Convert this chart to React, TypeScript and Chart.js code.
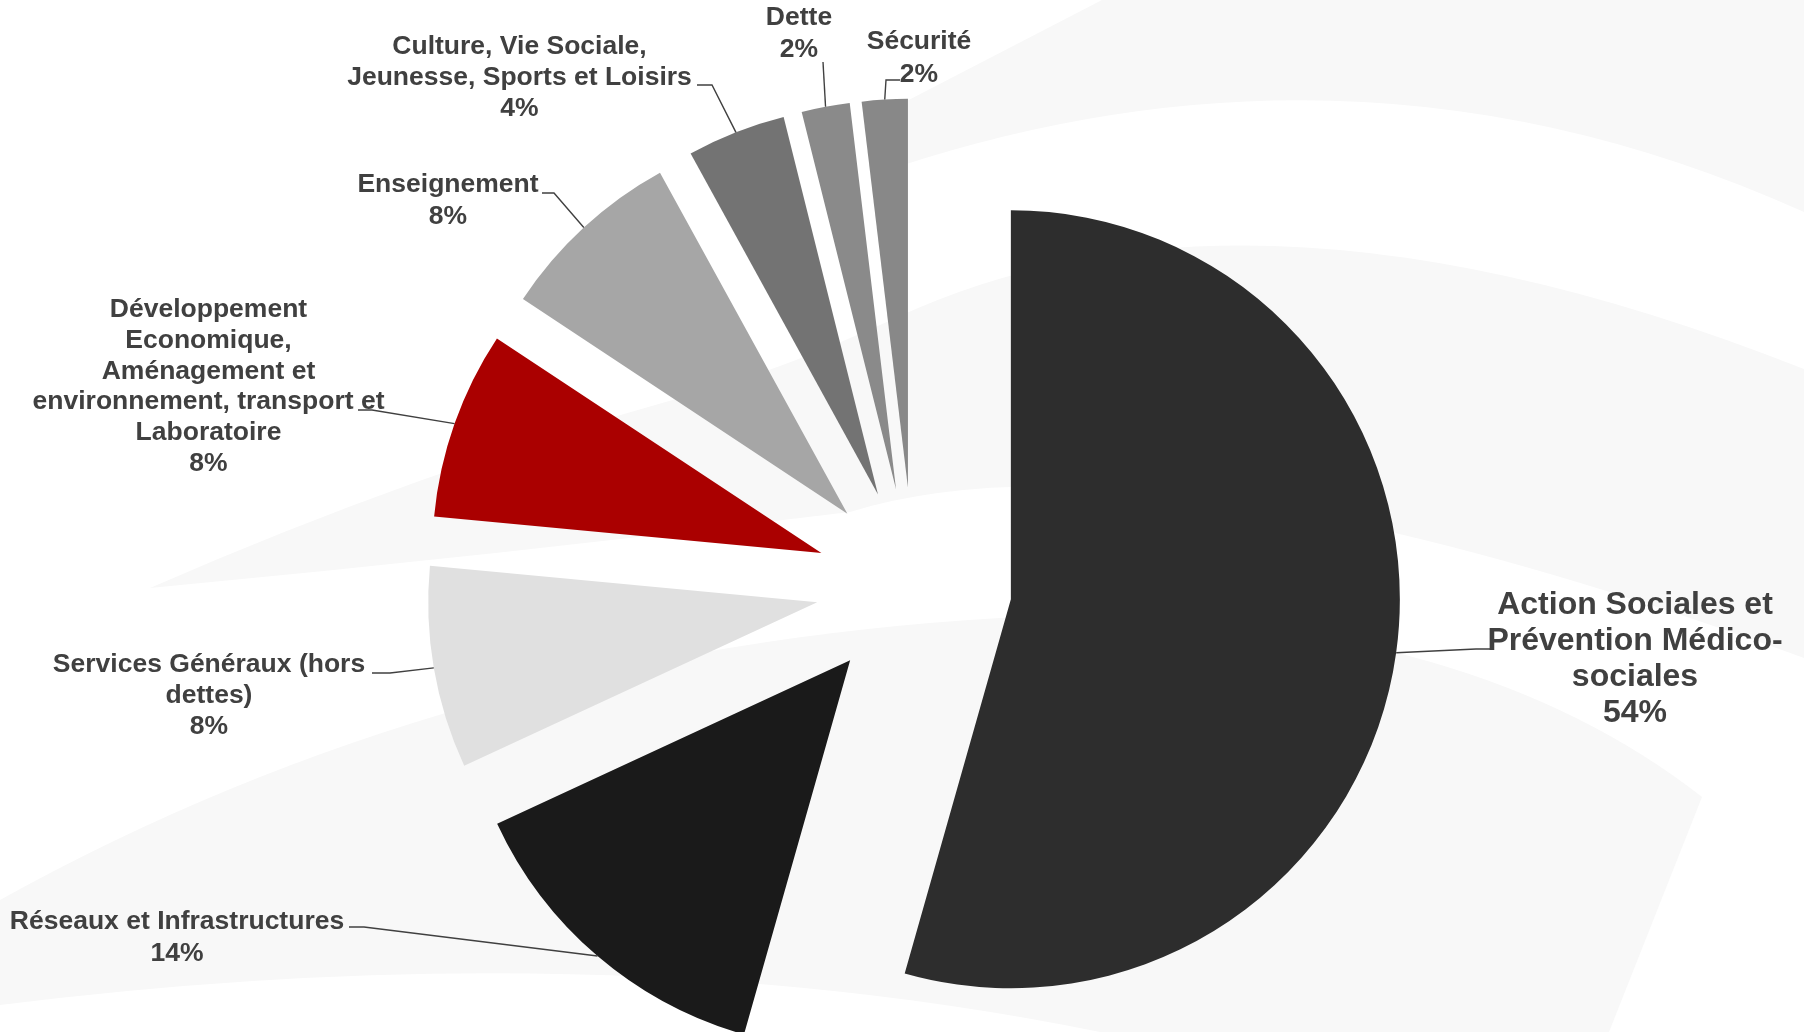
import React, { useEffect, useRef } from 'react';
import { Chart, registerables } from 'chart.js';

Chart.register(...registerables);

// ---------- data ----------
const categories: string[] = [
  'Action Sociales et Prévention Médico-sociales',
  'Réseaux et Infrastructures',
  'Services Généraux (hors dettes)',
  'Développement Economique, Aménagement et environnement, transport et Laboratoire',
  'Enseignement',
  'Culture, Vie Sociale, Jeunesse, Sports et Loisirs',
  'Dette',
  'Sécurité',
];
const values: number[] = [54.4, 13.7, 8.4, 7.8, 7.7, 4.1, 2.0, 1.9];
const labelLines: string[][] = [
  ['Action Sociales et', 'Prévention Médico-', 'sociales'],
  ['Réseaux et Infrastructures'],
  ['Services Généraux (hors', 'dettes)'],
  ['Développement', 'Economique,', 'Aménagement et', 'environnement, transport et', 'Laboratoire'],
  ['Enseignement'],
  ['Culture, Vie Sociale,', 'Jeunesse, Sports et Loisirs'],
  ['Dette'],
  ['Sécurité'],
];

// ---------- styles / layout ----------
const sliceColors = ['#2d2d2d', '#1a1a1a', '#e0e0e0', '#aa0000', '#a6a6a6', '#737373', '#8a8a8a', '#888888'];
const TEXT_COLOR = '#404040';
const W = 1804;
const H = 1032;
const RADIUS = 389;
const EXPLODE = 98;
const FONT = '"Liberation Sans", Arial, Helvetica, sans-serif';

type LabelPos = { x: number; y: number; lh: number; size: number; anchor: [number, number]; elbow: [number, number] };
const labelLayout: LabelPos[] = [
  { x: 1635, y: 605, lh: 36, size: 32, anchor: [1490, 649], elbow: [1476, 649] },
  { x: 177, y: 921.7, lh: 31.6, size: 26.5, anchor: [349, 927], elbow: [364, 927] },
  { x: 209, y: 665, lh: 30.8, size: 26.5, anchor: [372, 673], elbow: [390, 673] },
  { x: 208.5, y: 310, lh: 30.7, size: 26.5, anchor: [358, 410], elbow: [372, 410] },
  { x: 448, y: 185, lh: 31.6, size: 26.5, anchor: [542, 193], elbow: [554, 193] },
  { x: 519.5, y: 46.7, lh: 30.8, size: 26.5, anchor: [697, 85], elbow: [712, 85] },
  { x: 799, y: 18, lh: 32, size: 26.5, anchor: [823, 62], elbow: [823, 62] },
  { x: 919, y: 41.7, lh: 33, size: 26.5, anchor: [900, 80], elbow: [886, 80] },
];

// faint watermark swooshes in the background
const drawBackground = (ctx: CanvasRenderingContext2D) => {
  ctx.save();
  ctx.fillStyle = '#ffffff';
  ctx.fillRect(0, 0, W, H);
  ctx.fillStyle = '#f8f8f8';
  // top band
  ctx.beginPath();
  ctx.moveTo(1102, 0);
  ctx.lineTo(W, 0);
  ctx.lineTo(W, 212);
  ctx.quadraticCurveTo(1352, 8, 870, 176);
  ctx.lineTo(870, 120);
  ctx.closePath();
  ctx.fill();
  // middle swoosh
  ctx.beginPath();
  ctx.moveTo(150, 588);
  ctx.quadraticCurveTo(420, 470, 690, 395);
  ctx.quadraticCurveTo(780, 371, 900, 316);
  ctx.quadraticCurveTo(1256, 152, W, 369);
  ctx.lineTo(W, 658);
  ctx.quadraticCurveTo(1150, 420, 850, 512);
  ctx.quadraticCurveTo(500, 555, 150, 588);
  ctx.closePath();
  ctx.fill();
  // lower band
  ctx.beginPath();
  ctx.moveTo(0, 900);
  ctx.quadraticCurveTo(450, 650, 1000, 618);
  ctx.quadraticCurveTo(1450, 600, 1702, 797);
  ctx.lineTo(1609, H);
  ctx.lineTo(1100, H);
  ctx.quadraticCurveTo(600, 930, 0, 1005);
  ctx.closePath();
  ctx.fill();
  ctx.restore();
};

const backgroundPlugin = {
  id: 'bgSwoosh',
  beforeDraw(chart: any) {
    drawBackground(chart.ctx);
  },
};

const explodePlugin = {
  id: 'explodeSlices',
  afterDatasetsUpdate(chart: any) {
    const meta = chart.getDatasetMeta(0);
    meta.data.forEach((arc: any) => {
      const mid = (arc.startAngle + arc.endAngle) / 2;
      arc.x += Math.cos(mid) * EXPLODE;
      arc.y += Math.sin(mid) * EXPLODE;
    });
  },
};

const labelsPlugin = {
  id: 'sliceLabels',
  afterDatasetsDraw(chart: any) {
    const ctx: CanvasRenderingContext2D = chart.ctx;
    const meta = chart.getDatasetMeta(0);
    const data: number[] = chart.data.datasets[0].data;
    const total = data.reduce((a, b) => a + b, 0);
    ctx.save();
    meta.data.forEach((arc: any, i: number) => {
      const pos = labelLayout[i];
      const mid = (arc.startAngle + arc.endAngle) / 2;
      const ex = arc.x + Math.cos(mid) * arc.outerRadius;
      const ey = arc.y + Math.sin(mid) * arc.outerRadius;
      // leader line
      ctx.strokeStyle = TEXT_COLOR;
      ctx.lineWidth = 1.4;
      ctx.beginPath();
      ctx.moveTo(pos.anchor[0], pos.anchor[1]);
      ctx.lineTo(pos.elbow[0], pos.elbow[1]);
      ctx.lineTo(ex, ey);
      ctx.stroke();
      // text
      const lines = [...labelLines[i], Math.round((data[i] / total) * 100) + '%'];
      ctx.fillStyle = TEXT_COLOR;
      ctx.font = `bold ${pos.size}px ${FONT}`;
      ctx.textAlign = 'center';
      ctx.textBaseline = 'middle';
      lines.forEach((t, k) => ctx.fillText(t, pos.x, pos.y + k * pos.lh));
    });
    ctx.restore();
  },
};

export default function App() {
  const canvasRef = useRef<HTMLCanvasElement | null>(null);

  useEffect(() => {
    const prevMargin = document.body.style.margin;
    document.body.style.margin = '0';
    const canvas = canvasRef.current;
    if (!canvas) return;
    const chart = new Chart(canvas, {
      type: 'pie',
      data: {
        labels: categories,
        datasets: [
          {
            data: values,
            backgroundColor: sliceColors,
            borderWidth: 0,
            clip: false as any,
          } as any,
        ],
      },
      options: {
        responsive: false,
        animation: false,
        events: [],
        radius: RADIUS,
        layout: { padding: { left: 23.6, right: 0, top: 139.4, bottom: 0 } },
        plugins: {
          legend: { display: false },
          tooltip: { enabled: false },
          title: { display: false },
        },
      } as any,
      plugins: [backgroundPlugin, explodePlugin, labelsPlugin],
    });
    return () => {
      chart.destroy();
      document.body.style.margin = prevMargin;
    };
  }, []);

  return (
    <div style={{ position: 'absolute', left: 0, top: 0, width: W, height: H, background: '#fff' }}>
      <canvas ref={canvasRef} width={W} height={H} style={{ width: W, height: H, display: 'block' }} />
    </div>
  );
}
